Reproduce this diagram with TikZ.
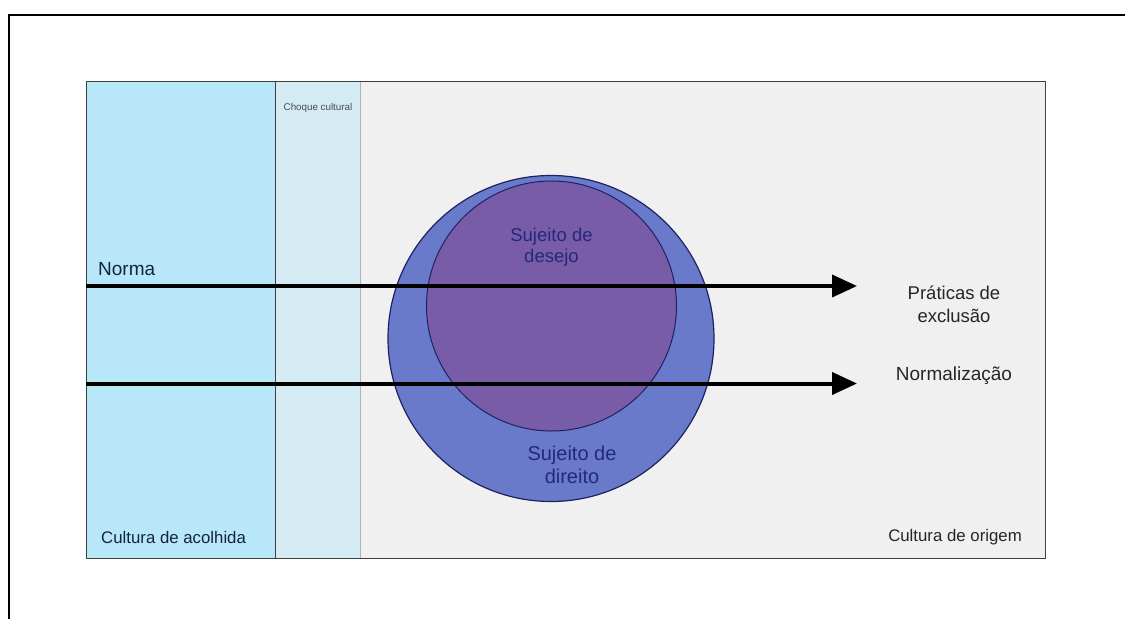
\documentclass[tikz,border=0pt]{standalone}
\usepackage{fontspec}
\setmainfont{Liberation Sans}
\usetikzlibrary{arrows.meta,shapes.geometric}
\definecolor{leftblue}{HTML}{B9E7FA}
\definecolor{choqueblue}{HTML}{D4EBF4}
\definecolor{greyreg}{HTML}{F0F0F0}
\definecolor{outerc}{HTML}{6A7ACB}
\definecolor{innerc}{HTML}{785CA8}
\definecolor{navytext}{HTML}{23297A}
\definecolor{darklabel}{HTML}{13253D}
\tikzset{
  frame/.style={line width=2pt, draw=black},
  flowarrow/.style={line width=4pt, draw=black, -{Triangle[length=25pt,width=22pt]}},
  circtext/.style={font=\fontsize{18.5}{20.5}\selectfont, text=navytext, align=center, inner sep=0pt},
  sidetext/.style={font=\fontsize{18.5}{23}\selectfont, text=black!85, align=center, inner sep=0pt},
  cornertext/.style={font=\fontsize{16.8}{20}\selectfont, text=darklabel, inner sep=0pt},
  disc/.style={circle, draw=navytext!80!black, inner sep=0pt},
}
\begin{document}
\begin{tikzpicture}[x=1pt,y=-1pt]
\useasboundingbox (0,0) rectangle (1125,619);
\fill[white] (0,0) rectangle (1125,619);
% outer frame (top and left)
\draw[frame] (1125,14.5) -- (8.5,14.5) -- (8.5,619);
% regions
\fill[greyreg] (360,81) rectangle (1045,558);
\fill[leftblue] (86,81) rectangle (275,558);
\fill[choqueblue] (275,81) rectangle (360,558);
\draw[black!30, line width=0.8pt] (360,81) -- (360,558);
\draw[black!75, line width=1pt] (275,81) -- (275,558);
\draw[black!75, line width=1pt] (86,81) rectangle (1045,558);
% circles
\node[disc, line width=1.2pt, fill=outerc, minimum size=326pt] (outer) at (551,338.5) {};
\node[disc, line width=1pt, fill=innerc, minimum size=250pt] (inner) at (551.5,306) {};
% arrows
\coordinate (a1s) at (86,286);
\coordinate (a1e) at (857,286);
\coordinate (a2s) at (86,383.5);
\coordinate (a2e) at (857,383.5);
\draw[flowarrow] (a1s) -- (a1e);
\draw[flowarrow] (a2s) -- (a2e);
% texts
\node[circtext] (desejo) at (551.5,247) {Sujeito de\\desejo};
\node[circtext, font=\fontsize{20}{23.5}\selectfont] (direito) at (572,465) {Sujeito de\\direito};
\node[font=\fontsize{19}{22}\selectfont, text=darklabel, anchor=west, inner sep=0pt] (norma) at (98,269) {Norma};
\node[sidetext] (praticas) at (954,304) {Práticas de\\exclusão};
\node[sidetext, font=\fontsize{19}{22}\selectfont] (normaliz) at (954,376) {Normalização};
\node[cornertext, anchor=west] (acolhida) at (101,537) {Cultura de acolhida};
\node[cornertext, anchor=east, text=black!85] (origem) at (1022,537) {Cultura de origem};
\node[font=\fontsize{9.8}{11}\selectfont, text=black!70, inner sep=0pt] (choque) at (318,108) {Choque cultural};
\end{tikzpicture}
\end{document}
